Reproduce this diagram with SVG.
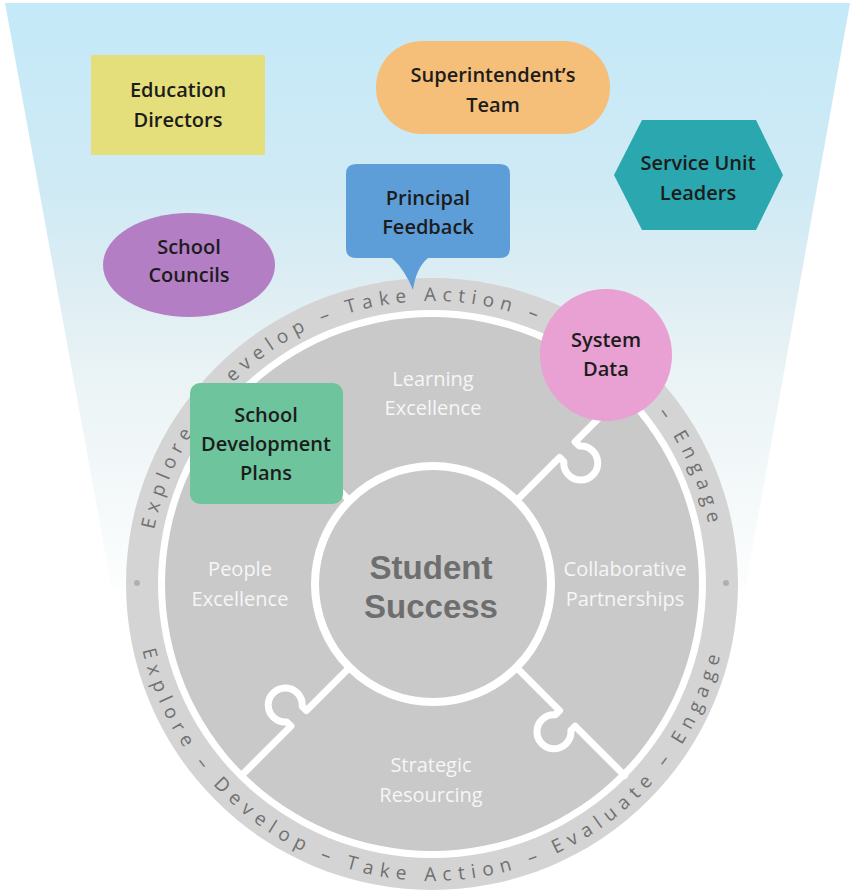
<svg xmlns="http://www.w3.org/2000/svg" xmlns:xlink="http://www.w3.org/1999/xlink" width="854" height="892" viewBox="0 0 854 892">
<defs>
  <linearGradient id="funnelGrad" gradientUnits="userSpaceOnUse" x1="0" y1="0" x2="0" y2="620">
    <stop offset="0" stop-color="#c4e9f8"/>
    <stop offset="0.3" stop-color="#cfeaf5"/>
    <stop offset="0.45" stop-color="#dcedf3"/>
    <stop offset="0.6" stop-color="#eaf3f5"/>
    <stop offset="1" stop-color="#ffffff"/>
  </linearGradient>
  <path id="topArc" d="M153.3,633.1 A283,283 0 1 1 710.7,633.1"/>
  <path id="botArc" d="M139.5,532.4 A297,297 0 1 0 724.5,532.4"/>
  <style>
    .lbl { font-family: "Open Sans", "Liberation Sans", sans-serif; font-weight: 600; font-size: 20px; fill: #1c1c1c; text-anchor: middle; }
    .quad { font-family: "Open Sans", "Liberation Sans", sans-serif; font-weight: 400; font-size: 20px; fill: #f6f6f6; text-anchor: middle; }
    .ringT { font-family: "Open Sans", "Liberation Sans", sans-serif; font-size: 19px; fill: #707070; letter-spacing: 6.3px; }
    .ringB { font-family: "Open Sans", "Liberation Sans", sans-serif; font-size: 19px; fill: #707070; letter-spacing: 6.7px; }
    .center { font-family: "Liberation Sans", Arial, sans-serif; font-weight: bold; font-size: 33px; fill: #6e6e6e; text-anchor: middle; }
    .divider { fill: none; stroke: #ffffff; stroke-width: 7; stroke-linejoin: round; stroke-linecap: round; }
  </style>
</defs>

<!-- background funnel -->
<rect x="0" y="0" width="854" height="892" fill="#ffffff"/>
<polygon points="5,3 850,3 745,590 112,590" fill="url(#funnelGrad)"/>

<!-- cycle ring -->
<g id="cycle-ring">
  <circle cx="432" cy="584" r="306" fill="#d4d4d4"/>
  <circle cx="432" cy="584" r="274" fill="#ffffff"/>
  <text class="ringT"><textPath xlink:href="#topArc" href="#topArc" startOffset="103.9">Explore</textPath></text>
  <text class="ringT"><textPath xlink:href="#topArc" href="#topArc" startOffset="272.8">evelop –</textPath></text>
  <text class="ringT"><textPath xlink:href="#topArc" href="#topArc" startOffset="407.6">Take Action –</textPath></text>
  <text class="ringT"><textPath xlink:href="#topArc" href="#topArc" startOffset="754.3">– Engage</textPath></text>
  <text class="ringB"><textPath xlink:href="#botArc" href="#botArc" startOffset="118.4">Explore –</textPath></text>
  <text class="ringB"><textPath xlink:href="#botArc" href="#botArc" startOffset="271.7">Develop –</textPath></text>
  <text class="ringB"><textPath xlink:href="#botArc" href="#botArc" startOffset="430.1">Take Action –</textPath></text>
  <text class="ringB"><textPath xlink:href="#botArc" href="#botArc" startOffset="645.5">Evaluate –</textPath></text>
  <text class="ringB"><textPath xlink:href="#botArc" href="#botArc" startOffset="813.8">Engage</textPath></text>
  <circle cx="137" cy="583" r="3" fill="#b0b0b0"/>
  <circle cx="726" cy="583" r="3" fill="#b0b0b0"/>
</g>

<!-- puzzle disk -->
<g id="puzzle">
  <circle cx="432" cy="584" r="267" fill="#c9c9c9"/>
  <path class="divider" d="M516.4,500.6 L559.6,457.4 L563.8,461.7 A17,17 0 1 0 579.4,446.1 L575.1,441.9 L624.6,392.4"/>
  <path class="divider" d="M516.4,667.4 L559.6,710.6 L555.3,714.8 A17,17 0 1 0 570.9,730.4 L575.1,726.1 L624.6,775.6"/>
  <path class="divider" d="M349.6,667.4 L306.4,710.6 L302.2,706.3 A17,17 0 1 0 286.6,721.9 L290.9,726.1 L241.4,775.6"/>
  <path class="divider" d="M349.6,500.6 L306.4,457.4 L310.7,453.2 A17,17 0 1 0 295.1,437.6 L290.9,441.9 L241.4,392.4"/>
  <circle cx="433" cy="584" r="118" fill="#c9c9c9" stroke="#ffffff" stroke-width="8"/>
</g>

<g id="learning-excellence">
  <text class="quad" x="433" y="386">Learning</text>
  <text class="quad" x="433" y="415">Excellence</text>
</g>
<g id="people-excellence">
  <text class="quad" x="240" y="576">People</text>
  <text class="quad" x="240" y="606">Excellence</text>
</g>
<g id="collaborative-partnerships">
  <text class="quad" x="625" y="576">Collaborative</text>
  <text class="quad" x="625" y="606">Partnerships</text>
</g>
<g id="strategic-resourcing">
  <text class="quad" x="431" y="772">Strategic</text>
  <text class="quad" x="431" y="802">Resourcing</text>
</g>
<g id="student-success">
  <text class="center" x="431" y="579">Student</text>
  <text class="center" x="431" y="618">Success</text>
</g>

<g id="connectors"></g>

<!-- stakeholder nodes -->
<g id="education-directors">
  <rect x="91" y="55" width="174" height="100" fill="#e4df7a"/>
  <text class="lbl" x="178" y="97">Education</text>
  <text class="lbl" x="178" y="127">Directors</text>
</g>

<g id="superintendents-team">
  <rect x="376" y="41" width="234" height="93" rx="46" ry="46" fill="#f5bf7a"/>
  <text class="lbl" x="493" y="82">Superintendent’s</text>
  <text class="lbl" x="493" y="112">Team</text>
</g>

<g id="service-unit-leaders">
  <polygon points="614,175 642,120 756,120 783,175 756,230 642,230" fill="#2ba7af"/>
  <text class="lbl" x="698" y="170">Service Unit</text>
  <text class="lbl" x="698" y="200">Leaders</text>
</g>

<g id="principal-feedback">
  <path d="M356,164 H500 Q510,164 510,174 V248 Q510,258 500,258 H428 Q416,268 413,290 Q405,270 392,258 H356 Q346,258 346,248 V174 Q346,164 356,164 Z" fill="#5e9ed8"/>
  <text class="lbl" x="428" y="205">Principal</text>
  <text class="lbl" x="428" y="234">Feedback</text>
</g>

<g id="school-councils">
  <ellipse cx="189" cy="265" rx="86" ry="52" fill="#b47ec5"/>
  <text class="lbl" x="189" y="254">School</text>
  <text class="lbl" x="189" y="282">Councils</text>
</g>

<g id="system-data">
  <circle cx="606" cy="355" r="66" fill="#e9a0d2"/>
  <text class="lbl" x="606" y="347">System</text>
  <text class="lbl" x="606" y="376">Data</text>
</g>

<g id="school-development-plans">
  <rect x="190" y="383" width="153" height="121" rx="10" ry="10" fill="#6ec49c"/>
  <text class="lbl" x="266" y="422">School</text>
  <text class="lbl" x="266" y="451">Development</text>
  <text class="lbl" x="266" y="480">Plans</text>
</g>
</svg>
